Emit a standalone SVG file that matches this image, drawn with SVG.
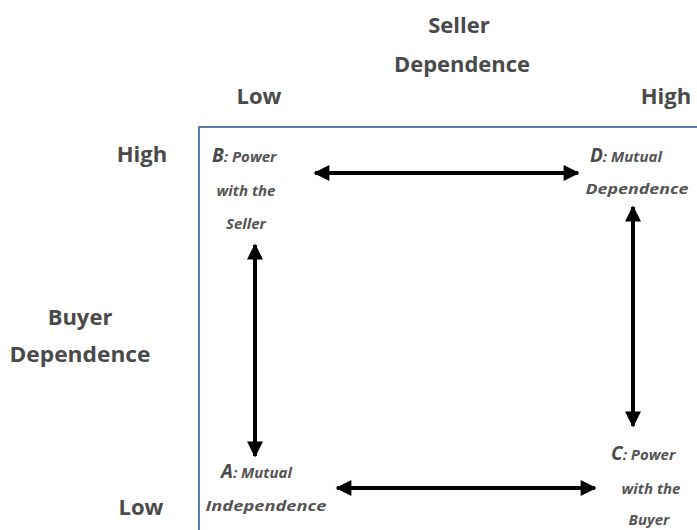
<svg xmlns="http://www.w3.org/2000/svg" width="697" height="530" viewBox="0 0 697 530">
  <style>
    .axis { font-family: "Open Sans", "Liberation Sans", sans-serif; font-weight: bold; font-size: 22px; fill: #4a4a4a; }
    .node { font-family: "Open Sans", "Liberation Sans", sans-serif; font-weight: bold; font-style: italic; font-size: 15px; fill: #555555; }
    .key { font-size: 19px; fill: #4a4a4a; }
    .conn { stroke: #000000; stroke-width: 4; fill: none; marker-start: url(#head); marker-end: url(#head); }
  </style>
  <defs>
    <marker id="head" viewBox="0 0 10 10" refX="9" refY="5" markerWidth="4.5" markerHeight="4" orient="auto-start-reverse" markerUnits="strokeWidth">
      <path d="M0,0 L10,5 L0,10 Z" fill="#000000"/>
    </marker>
  </defs>

  <rect width="697" height="530" fill="#ffffff"/>

  <!-- quadrant frame -->
  <rect x="199" y="127" width="520" height="430" fill="none" stroke="#5a7ca6" stroke-width="2"/>

  <!-- axis titles -->
  <g id="seller-axis">
    <text class="axis" x="459" y="33" text-anchor="middle">Seller</text>
    <text class="axis" x="462" y="72" text-anchor="middle" textLength="136" lengthAdjust="spacingAndGlyphs">Dependence</text>
    <text class="axis" x="259" y="104" text-anchor="middle">Low</text>
    <text class="axis" x="666" y="104" text-anchor="middle">High</text>
  </g>
  <g id="buyer-axis">
    <text class="axis" x="142" y="162" text-anchor="middle">High</text>
    <text class="axis" x="80" y="325" text-anchor="middle">Buyer</text>
    <text class="axis" x="80" y="362" text-anchor="middle" textLength="141" lengthAdjust="spacingAndGlyphs">Dependence</text>
    <text class="axis" x="141" y="515" text-anchor="middle">Low</text>
  </g>

  <!-- quadrant nodes -->
  <g id="node-b">
    <text class="node" x="212" y="162"><tspan class="key">B</tspan>: Power</text>
    <text class="node" x="246" y="196" text-anchor="middle">with the</text>
    <text class="node" x="246" y="229" text-anchor="middle">Seller</text>
  </g>
  <g id="node-d">
    <text class="node" x="590" y="162"><tspan class="key">D</tspan>: Mutual</text>
    <text class="node" x="637" y="194" text-anchor="middle" textLength="103" lengthAdjust="spacingAndGlyphs">Dependence</text>
  </g>
  <g id="node-a">
    <text class="node" x="221" y="478"><tspan class="key">A</tspan>: Mutual</text>
    <text class="node" x="266" y="511" text-anchor="middle" textLength="121" lengthAdjust="spacingAndGlyphs">Independence</text>
  </g>
  <g id="node-c">
    <text class="node" x="611" y="460"><tspan class="key">C</tspan>: Power</text>
    <text class="node" x="651" y="494" text-anchor="middle">with the</text>
    <text class="node" x="649" y="525" text-anchor="middle">Buyer</text>
  </g>

  <!-- connectors -->
  <g id="connectors">
    <line class="conn" x1="315" y1="173" x2="578" y2="173"/>
    <line class="conn" x1="255" y1="245" x2="255" y2="456"/>
    <line class="conn" x1="633" y1="207" x2="633" y2="426"/>
    <line class="conn" x1="337" y1="488" x2="595" y2="488"/>
  </g>
</svg>
